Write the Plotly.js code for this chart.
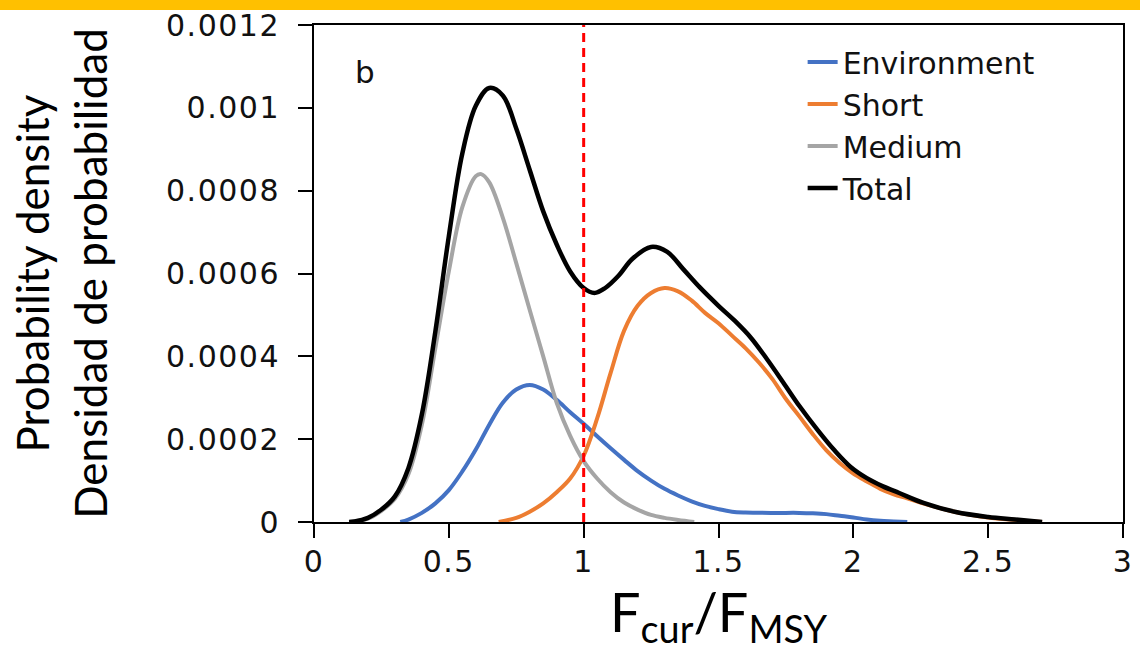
<!DOCTYPE html>
<html>
<head>
<meta charset="utf-8">
<script src="https://cdn.plot.ly/plotly-3.0.1.min.js"></script>
<style>
  html, body { margin: 0; padding: 0; background: #fff; }
  #wrap { position: relative; width: 1140px; height: 664px; overflow: hidden; }
  #topbar { position: absolute; left: 0; top: 0; width: 1140px; height: 10px; background: #FFC000; z-index: 5; }
  #chart { position: absolute; left: 0; top: 0; width: 1140px; height: 664px; }
  #chart .xtick text, #chart .ytick text { letter-spacing: 1.5px; }
</style>
</head>
<body>
<div id="wrap">
  <div id="topbar"></div>
  <div id="chart"></div>
</div>
<script>
// ---- data ----
const envX = [0.32, 0.35, 0.4, 0.45, 0.5, 0.55, 0.6, 0.65, 0.7, 0.75, 0.8, 0.85, 0.9, 0.95, 1.0, 1.05, 1.1, 1.15, 1.2, 1.25, 1.3, 1.35, 1.4, 1.45, 1.5, 1.55, 1.6, 1.7, 1.8, 1.85, 1.9, 1.95, 2.0, 2.05, 2.1, 2.15, 2.2];
const envY = [0, 0.06e-4, 0.22e-4, 0.45e-4, 0.77e-4, 1.22e-4, 1.75e-4, 2.35e-4, 2.88e-4, 3.2e-4, 3.31e-4, 3.2e-4, 2.95e-4, 2.65e-4, 2.37e-4, 2.07e-4, 1.78e-4, 1.5e-4, 1.23e-4, 1.0e-4, 0.8e-4, 0.64e-4, 0.5e-4, 0.39e-4, 0.31e-4, 0.25e-4, 0.23e-4, 0.22e-4, 0.22e-4, 0.21e-4, 0.19e-4, 0.15e-4, 0.11e-4, 0.06e-4, 0.03e-4, 0.015e-4, 0];

const shortX = [0.685, 0.75, 0.8, 0.85, 0.9, 0.95, 1.0, 1.05, 1.1, 1.15, 1.2, 1.25, 1.3, 1.35, 1.4, 1.45, 1.5, 1.55, 1.6, 1.65, 1.7, 1.75, 1.8, 1.85, 1.9, 1.95, 2.0, 2.05, 2.1, 2.15, 2.2, 2.3, 2.4, 2.5, 2.6, 2.7];
const shortY = [0, 0.1e-4, 0.25e-4, 0.45e-4, 0.72e-4, 1.05e-4, 1.6e-4, 2.5e-4, 3.6e-4, 4.62e-4, 5.22e-4, 5.53e-4, 5.65e-4, 5.57e-4, 5.35e-4, 5.05e-4, 4.8e-4, 4.5e-4, 4.2e-4, 3.85e-4, 3.45e-4, 2.97e-4, 2.55e-4, 2.12e-4, 1.73e-4, 1.42e-4, 1.17e-4, 0.98e-4, 0.8e-4, 0.67e-4, 0.57e-4, 0.37e-4, 0.21e-4, 0.11e-4, 0.05e-4, 0];

const mediumX = [0.13, 0.2, 0.25, 0.3, 0.35, 0.4, 0.45, 0.5, 0.55, 0.6, 0.62, 0.65, 0.7, 0.75, 0.8, 0.85, 0.9, 0.95, 1.0, 1.05, 1.1, 1.15, 1.2, 1.25, 1.3, 1.35, 1.41];
const mediumY = [0, 0.08e-4, 0.27e-4, 0.56e-4, 1.15e-4, 2.35e-4, 4.2e-4, 6.05e-4, 7.6e-4, 8.35e-4, 8.4e-4, 8.2e-4, 7.35e-4, 6.25e-4, 5.12e-4, 4.0e-4, 2.88e-4, 2.08e-4, 1.47e-4, 1.05e-4, 0.72e-4, 0.47e-4, 0.3e-4, 0.17e-4, 0.1e-4, 0.05e-4, 0];

const totalX = [0.13, 0.15, 0.2, 0.25, 0.3, 0.35, 0.4, 0.45, 0.5, 0.55, 0.6, 0.65, 0.7, 0.75, 0.8, 0.85, 0.9, 0.95, 1.0, 1.04, 1.08, 1.13, 1.18, 1.25, 1.31, 1.37, 1.43, 1.5, 1.56, 1.62, 1.68, 1.74, 1.8, 1.87, 1.93, 1.99, 2.05, 2.11, 2.17, 2.26, 2.38, 2.5, 2.6, 2.7];
const totalY = [0, 0.01e-4, 0.1e-4, 0.3e-4, 0.62e-4, 1.3e-4, 2.6e-4, 4.6e-4, 6.9e-4, 8.9e-4, 10.05e-4, 10.48e-4, 10.3e-4, 9.5e-4, 8.5e-4, 7.5e-4, 6.7e-4, 6.05e-4, 5.65e-4, 5.53e-4, 5.65e-4, 5.95e-4, 6.35e-4, 6.64e-4, 6.52e-4, 6.1e-4, 5.67e-4, 5.22e-4, 4.86e-4, 4.45e-4, 3.93e-4, 3.37e-4, 2.8e-4, 2.2e-4, 1.73e-4, 1.33e-4, 1.06e-4, 0.86e-4, 0.7e-4, 0.46e-4, 0.24e-4, 0.12e-4, 0.06e-4, 0];

const refX = [1, 1];
const refY = [0, 0.0012];

const seriesNames = ["Environment", "Short", "Medium", "Total"];
const seriesColors = ["#4472C4", "#ED7D31", "#A5A5A5", "#000000"];

const xTickVals = [0, 0.5, 1, 1.5, 2, 2.5, 3];
const xTickText = ["0", "0.5", "1", "1.5", "2", "2.5", "3"];
const yTickVals = [0, 0.0002, 0.0004, 0.0006, 0.0008, 0.001, 0.0012];
const yTickText = ["0", "0.0002", "0.0004", "0.0006", "0.0008", "0.001", "0.0012"];

const xTitle = "F<sub>cur</sub>/F<sub>MSY</sub>";
const yTitle = "Probability density<br>Densidad de probabilidad";
const panelLabel = "b";

// ---- build ----
const xs = [envX, shortX, mediumX, totalX];
const ys = [envY, shortY, mediumY, totalY];
const widths = [4, 4, 4, 4.5];

const traces = seriesNames.map((name, i) => ({
  type: "scatter", mode: "lines", name: name,
  x: xs[i], y: ys[i],
  line: { color: seriesColors[i], width: widths[i], shape: "spline", smoothing: 1 },
  hoverinfo: "skip"
}));
traces.push({
  type: "scatter", mode: "lines", x: refX, y: refY, showlegend: false,
  line: { color: "#FF0000", width: 3, dash: "9px,6px" }, hoverinfo: "skip"
});

const tickFont = { family: "DejaVu Sans", size: 30, color: "#111" };
const axisCommon = {
  showline: true, linecolor: "#000", linewidth: 2, mirror: true,
  ticks: "outside", ticklen: 14, tickwidth: 2, tickcolor: "#000",
  showgrid: false, zeroline: false, tickfont: tickFont
};

const layout = {
  width: 1140, height: 664,
  margin: { l: 314, r: 17, t: 25, b: 142 },
  paper_bgcolor: "#fff", plot_bgcolor: "#fff",
  xaxis: Object.assign({}, axisCommon, {
    range: [0, 3], tickmode: "array", tickvals: xTickVals, ticktext: xTickText,
    ticklabelstandoff: -2,
    title: { text: xTitle, font: { family: "Lato", size: 54, color: "#000" }, standoff: 15 }
  }),
  yaxis: Object.assign({}, axisCommon, {
    range: [0, 0.0012], tickmode: "array", tickvals: yTickVals, ticktext: yTickText,
    ticklabelstandoff: 12,
    title: { text: yTitle, font: { family: "Lato", size: 44, color: "#000" }, standoff: 54 }
  }),
  showlegend: true,
  legend: {
    x: 0.604, xanchor: "left", y: 0.978, yanchor: "top",
    bgcolor: "rgba(0,0,0,0)", borderwidth: 0,
    font: { family: "DejaVu Sans", size: 30, color: "#111" },
    tracegroupgap: 0
  },
  annotations: [{
    text: panelLabel, xref: "paper", yref: "paper", x: 0.048, y: 0.905,
    xanchor: "left", yanchor: "middle", showarrow: false,
    font: { family: "DejaVu Sans", size: 31, color: "#111" }
  }]
};

Plotly.newPlot("chart", traces, layout, { displayModeBar: false, staticPlot: true });
</script>
</body>
</html>
